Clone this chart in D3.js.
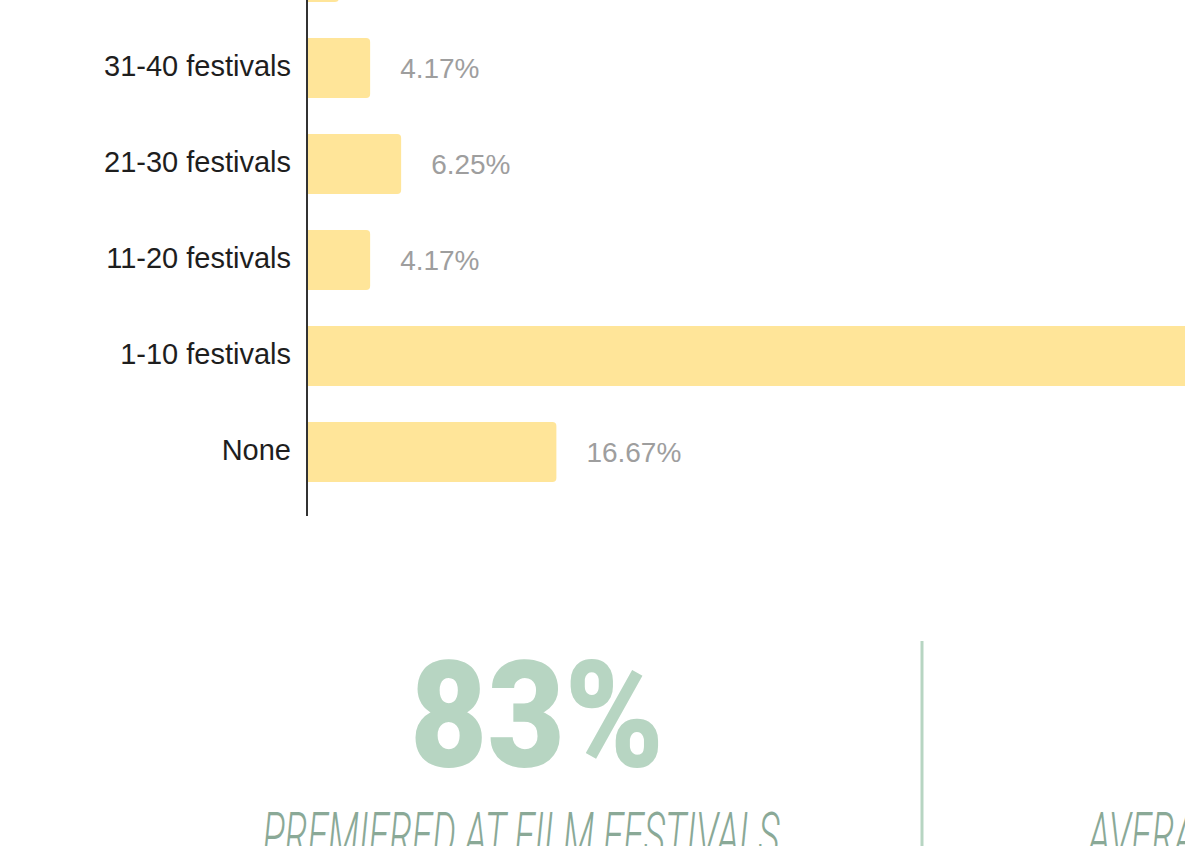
<!DOCTYPE html>
<html>
<head>
<meta charset="utf-8">
<script src="https://cdn.jsdelivr.net/npm/d3@7"></script>
<style>
  html, body { margin: 0; padding: 0; background: #fff; overflow: hidden; }
  svg { display: block; }
</style>
</head>
<body>
<svg id="chart" width="1185" height="846"></svg>
<script>
// categories, top to bottom
var categories = ['41+ festivals', '31-40 festivals', '21-30 festivals', '11-20 festivals', '1-10 festivals', 'None'];
// percent of films
var values = [2.08, 4.17, 6.25, 4.17, 66.67, 16.67];
var valueLabels = ['2.08%', '4.17%', '6.25%', '4.17%', '66.67%', '16.67%'];

// big stat block
var statValue = '83%';
var statCaption = 'PREMIERED AT FILM FESTIVALS';
var nextCaption = 'AVERAGE NUMBER OF FESTIVALS';

var svg = d3.select('#chart');

var x0 = 308;
var x = d3.scaleLinear().domain([0, 100]).range([x0, x0 + 1490]);
var y = d3.scaleBand().domain(categories).range([-76, 500]).paddingInner(0.375).paddingOuter(0.1875);

// bar shape: flat left, rounded right end
function barPath(d, i) {
  var x1 = x(values[i]), top = y(d), h = y.bandwidth(), r = 4;
  return 'M' + x0 + ',' + top +
    'H' + (x1 - r) + 'Q' + x1 + ',' + top + ' ' + x1 + ',' + (top + r) +
    'V' + (top + h - r) + 'Q' + x1 + ',' + (top + h) + ' ' + (x1 - r) + ',' + (top + h) +
    'H' + x0 + 'Z';
}

svg.append('g').selectAll('path')
  .data(categories)
  .enter().append('path')
  .attr('d', barPath)
  .attr('fill', '#ffe599');

// value labels
svg.append('g').selectAll('text')
  .data(categories)
  .enter().append('text')
  .attr('x', function(d, i) { return x(values[i]) + 30; })
  .attr('y', function(d) { return y(d) + y.bandwidth() / 2; })
  .attr('dy', '0.36em')
  .attr('font-family', 'Liberation Sans, Arial, sans-serif')
  .attr('font-size', 28)
  .attr('fill', '#9e9e9e')
  .text(function(d, i) { return valueLabels[i]; });

// category axis
var axis = svg.append('g')
  .attr('transform', 'translate(' + (x0 - 1) + ',0)')
  .call(d3.axisLeft(y).tickSize(0).tickPadding(16));
axis.select('.domain').remove();
axis.selectAll('text')
  .attr('font-family', 'Liberation Sans, Arial, sans-serif')
  .attr('font-size', 29)
  .attr('fill', '#1e1e1e')
  .attr('dy', '0.26em');

svg.append('line')
  .attr('x1', x0 - 1).attr('x2', x0 - 1)
  .attr('y1', -80).attr('y2', 516)
  .attr('stroke', '#333')
  .attr('stroke-width', 2);

// stat block
svg.append('text')
  .attr('x', 537)
  .attr('y', 767)
  .attr('text-anchor', 'middle')
  .attr('font-family', 'Roboto, sans-serif')
  .attr('font-weight', 900)
  .attr('font-size', 148)
  .attr('textLength', 254)
  .attr('lengthAdjust', 'spacingAndGlyphs')
  .attr('fill', '#b7d5c2')
  .text(statValue);

var cap = svg.append('text')
  .attr('x', 521)
  .attr('y', 857)
  .attr('text-anchor', 'middle')
  .attr('font-family', 'Roboto, sans-serif')
  .attr('font-weight', 300)
  .attr('font-style', 'italic')
  .attr('font-size', 62)
  .attr('fill', '#8aa997')
  .text(statCaption);
var natural = cap.node().getComputedTextLength();
var squeeze = 517 / natural;
cap.attr('textLength', 517).attr('lengthAdjust', 'spacingAndGlyphs');

svg.append('line')
  .attr('x1', 922).attr('x2', 922)
  .attr('y1', 641).attr('y2', 846)
  .attr('stroke', '#b7d5c2')
  .attr('stroke-width', 3);

var cap2 = svg.append('text')
  .attr('x', 1088)
  .attr('y', 857)
  .attr('font-family', 'Roboto, sans-serif')
  .attr('font-weight', 300)
  .attr('font-style', 'italic')
  .attr('font-size', 62)
  .attr('fill', '#8aa997')
  .text(nextCaption);
cap2.attr('textLength', cap2.node().getComputedTextLength() * squeeze)
  .attr('lengthAdjust', 'spacingAndGlyphs');
</script>
</body>
</html>
